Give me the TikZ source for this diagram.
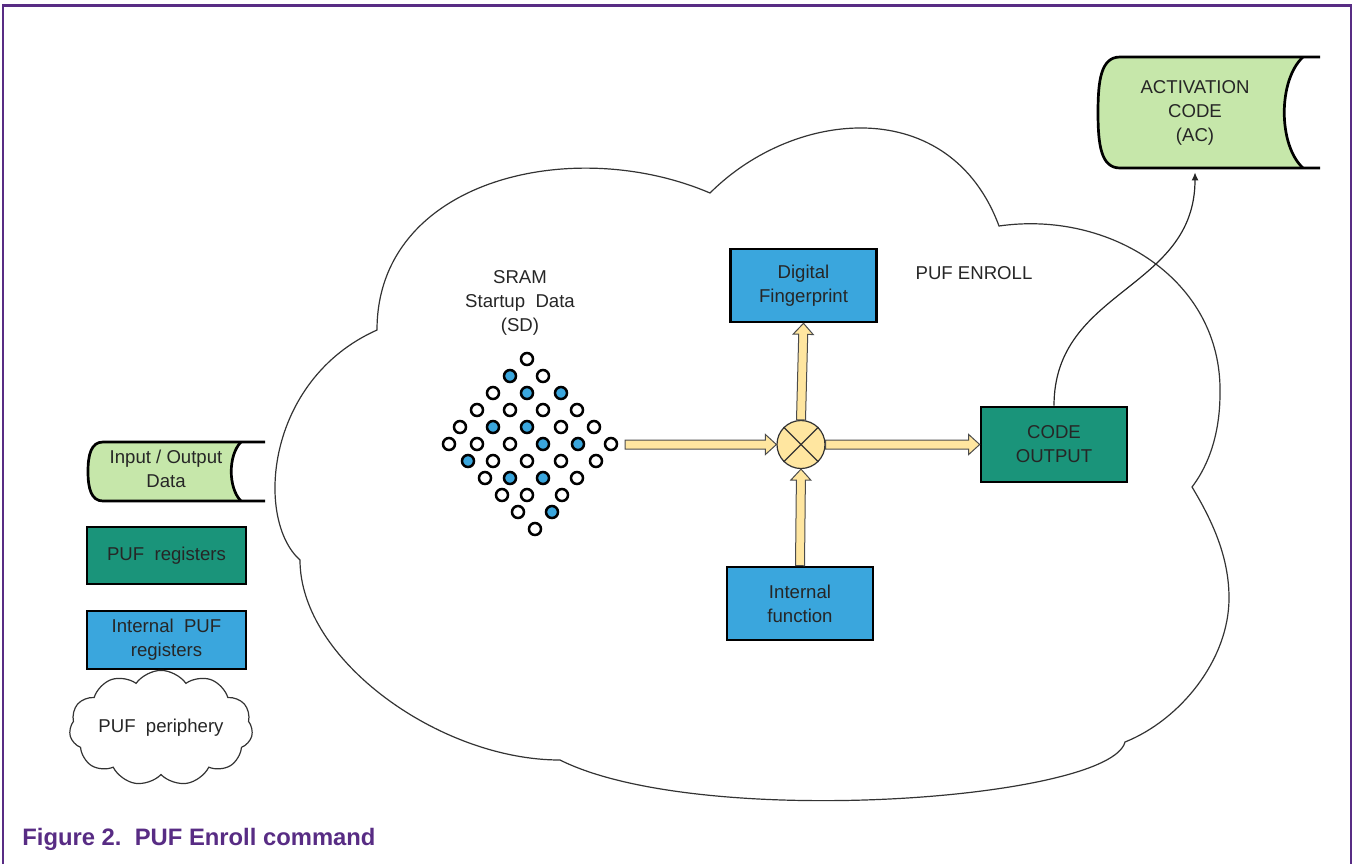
\documentclass[tikz,border=0pt]{standalone}
\usepackage{fontspec}
\setmainfont{Liberation Sans}
\usetikzlibrary{calc,arrows.meta,shapes.symbols}

\definecolor{nxppurple}{RGB}{88,44,132}
\definecolor{regteal}{RGB}{26,148,122}
\definecolor{regblue}{RGB}{58,166,221}
\definecolor{storegreen}{RGB}{198,231,170}
\definecolor{flowyellow}{RGB}{255,230,160}

% wide outlined arrow from #1 to #2
\newcommand{\flowarrow}[2]{%
  \coordinate (fa) at ($(#2)!5.5pt!(#1)$);
  \filldraw[flow] ($(#1)!2.25pt!90:(#2)$) -- ($(fa)!2.25pt!-90:(#1)$)
    -- ($(fa)!5pt!-90:(#1)$) -- (#2) -- ($(fa)!5pt!90:(#1)$)
    -- ($(fa)!2.25pt!90:(#1)$) -- ($(#1)!2.25pt!-90:(#2)$) -- cycle;}

\begin{document}
\begin{tikzpicture}[x=.5pt,y=-.5pt,
  txt/.style={font=\fontsize{9.3}{12}\selectfont,text=black!85,align=center,inner sep=0pt},
  regbox/.style={txt,draw=black,line width=1.3pt,minimum width=73pt,minimum height=36.5pt},
  store/.style={draw=black,line width=1.35pt},
  flow/.style={fill=flowyellow,draw=black!70,line width=.5pt},
  sramdot/.style={draw=black,line width=1.25pt},
  cloudline/.style={draw=black!80,line width=.6pt}]
  \useasboundingbox (0,0) rectangle (1354,864);
  % frame
  \draw[nxppurple,line width=1.2pt] (3,864) -- (3,5.5) -- (1351,5.5) -- (1351,864);
  % PUF periphery cloud
  \draw[cloudline] (377,330)
    .. controls (377,180) and (572,134) .. (710,193)
    .. controls (795,108) and (950,94) .. (999,226)
    .. controls (1110,210) and (1222,280) .. (1220,393)
    .. controls (1220,440) and (1205,470) .. (1192,487)
    .. controls (1215,525) and (1229,560) .. (1229,598)
    .. controls (1229,660) and (1180,720) .. (1125,742)
    .. controls (1110,800) and (700,830) .. (560,760)
    .. controls (440,760) and (300,660) .. (300,560)
    .. controls (255,520) and (265,380) .. (377,330) -- cycle;
  \node[txt] (enroll) at (974,273) {PUF ENROLL};
  % SRAM startup data
  \node[txt] (sram) at (520,303) {SRAM\\Startup\ \ Data\\(SD)};
  \foreach \x/\y/\c in {527/359/white, 510/376/regblue, 543/376/white,
    493/393/white, 527/393/regblue, 561/393/regblue,
    477/410/white, 510/410/white, 543/410/white, 577/410/white,
    460/427/white, 493/427/regblue, 527/427/regblue, 561/427/white, 594/427/white,
    449/444/white, 477/444/white, 510/444/white, 543/444/regblue, 578/444/regblue, 611/444/white,
    468/461/regblue, 493/461/white, 527/461/white, 561/461/white, 596/461/white,
    485/478/white, 510/478/regblue, 543/478/regblue, 577/478/white,
    502/495/white, 527/495/white, 562/495/white,
    518/512/white, 552/512/regblue, 535/529/white}
    \draw[sramdot,fill=\c] (\x,\y) circle[radius=3pt];
  \coordinate (sd) at (625,444.5);
  % registers
  \node[regbox,fill=regblue] (fp) at (803.5,285.5) {Digital\\Fingerprint};
  \node[regbox,fill=regblue] (intf) at (800,603.5) {Internal\\function};
  \node[regbox,fill=regteal,minimum height=37.5pt] (code) at (1054,444.5) {CODE\\OUTPUT};
  \node[circle,draw=black!80,line width=.6pt,fill=flowyellow,minimum size=24pt,inner sep=0pt] (xor) at (801,444.5) {};
  \draw[black!80,line width=.6pt] (xor.north west) -- (xor.south east)
    (xor.north east) -- (xor.south west);
  \flowarrow{sd}{xor.west}
  \flowarrow{xor.east}{code.west}
  \flowarrow{xor.north}{fp.south}
  \flowarrow{intf.north}{xor.south}
  % activation code
  \node[txt,minimum height=55.5pt] (ac) at (1195,112.5) {};
  \fill[storegreen] (1120,57) -- (1303,57) .. controls (1278,80) and (1278,145) .. (1303,168)
    -- (1120,168) .. controls (1101,168) and (1098,145) .. (1098,112.5)
    .. controls (1098,80) and (1101,57) .. (1120,57) -- cycle;
  \draw[store] (1320,57) -- (1120,57) .. controls (1101,57) and (1098,80) .. (1098,112.5)
    .. controls (1098,145) and (1101,168) .. (1120,168) -- (1320,168);
  \draw[store] (1303,57) .. controls (1278,80) and (1278,145) .. (1303,168);
  \node[txt] (actext) at (ac) {ACTIVATION\\CODE\\(AC)};
  \draw[black!85,line width=.6pt,-{Latex[length=4pt,width=3.5pt]},shorten >=2pt]
    (code.north) .. controls ($(code.north)+(0,-117)$) and ($(ac.south)+(0,122)$) .. (ac.south);
  % legend
  \fill[storegreen] (103,442) -- (241,442) .. controls (228,455) and (228,488) .. (241,501)
    -- (103,501) .. controls (91,501) and (88,488) .. (88,471.5)
    .. controls (88,455) and (91,442) .. (103,442) -- cycle;
  \draw[store] (265,442) -- (103,442) .. controls (91,442) and (88,455) .. (88,471.5)
    .. controls (88,488) and (91,501) .. (103,501) -- (265,501);
  \draw[store] (241,442) .. controls (228,455) and (228,488) .. (241,501);
  \node[txt] (io) at (166,469) {Input / Output\\Data};
  \node[regbox,fill=regteal,minimum width=79.5pt,minimum height=28.5pt] (reg) at (166.5,555.5) {PUF\ \ registers};
  \node[regbox,fill=regblue,minimum width=79.5pt,minimum height=29pt] (ireg) at (166.5,640) {Internal\ \ PUF\\registers};
  \node[cloud,cloudline,txt,cloud puffs=11,cloud puff arc=110,aspect=1.9,
    minimum width=84pt,minimum height=44pt] (peri) at (161,728) {PUF\ \ periphery};
  % caption
  \node[anchor=base west,inner sep=0pt,font=\fontsize{11.9}{14}\selectfont\bfseries,text=nxppurple]
    (caption) at (22,845) {Figure 2.\ \ PUF Enroll command};
\end{tikzpicture}
\end{document}
